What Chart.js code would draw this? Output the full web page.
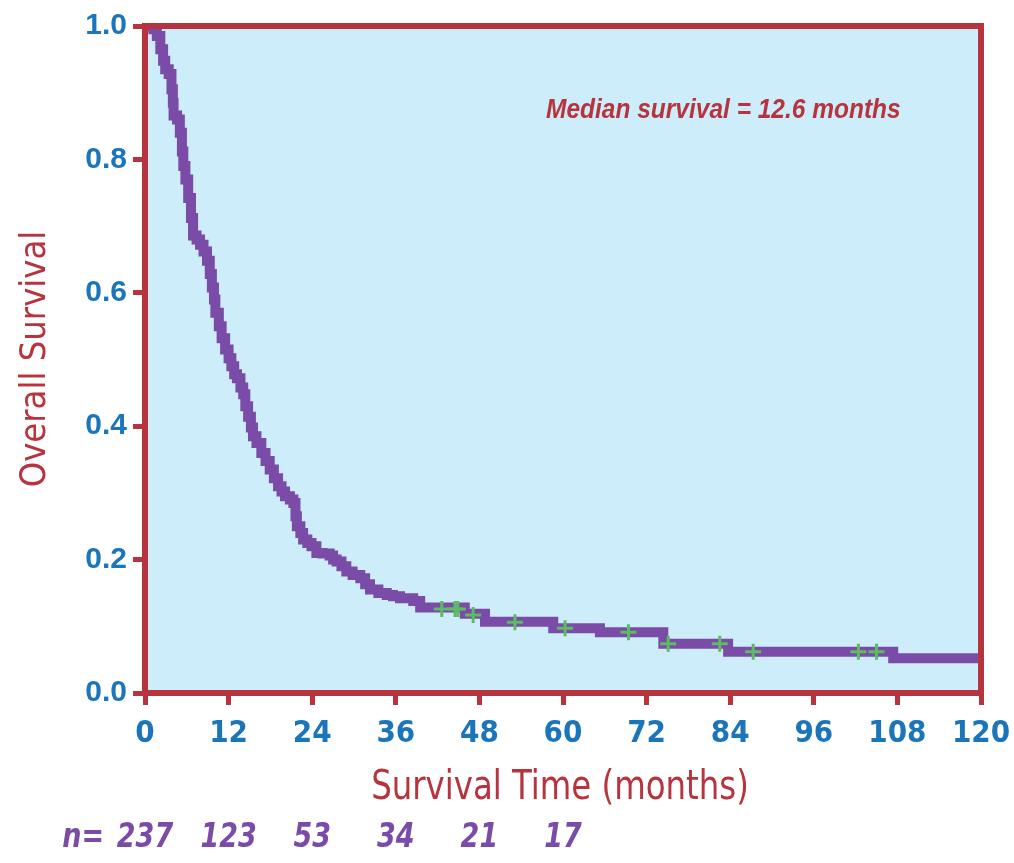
<!DOCTYPE html>
<html>
<head>
<meta charset="utf-8">
<script src="https://cdn.jsdelivr.net/npm/chart.js@4.4.0/dist/chart.umd.min.js"></script>
<style>
html,body{margin:0;padding:0;background:#ffffff;}
#wrap{width:1014px;height:863px;position:relative;}
</style>
</head>
<body>
<div id="wrap"><canvas id="c"></canvas></div>
<script>
// ---- Data ----
const stepTimes = [0,1.2,1.7,2.2,2.6,2.9,3.4,3.8,4.0,4.1,4.6,5.0,5.3,5.5,5.8,6.2,6.6,6.9,7.4,7.9,8.4,8.9,9.3,9.6,9.9,10.1,10.6,11.0,11.5,12.0,12.4,12.8,13.2,13.7,14.1,14.4,14.8,15.2,15.5,16.0,16.7,17.3,17.9,18.5,19.1,19.6,20.1,20.8,21.3,21.6,21.8,22.3,22.7,23.3,23.9,24.6,25.5,26.5,27.0,27.5,28.2,28.9,29.8,30.9,31.6,32.3,33.5,34.7,35.6,36.6,38.5,39.5,45.9,48.8,58.6,65.3,74.4,83.7,107.4,120];
const survival = [1.0,0.995,0.985,0.965,0.948,0.935,0.928,0.905,0.885,0.866,0.86,0.84,0.812,0.79,0.77,0.742,0.712,0.686,0.68,0.672,0.662,0.648,0.628,0.608,0.59,0.57,0.55,0.532,0.515,0.502,0.49,0.478,0.472,0.458,0.448,0.43,0.414,0.398,0.385,0.375,0.36,0.348,0.335,0.322,0.31,0.302,0.295,0.29,0.285,0.265,0.25,0.24,0.23,0.225,0.22,0.21,0.209,0.206,0.2,0.197,0.19,0.182,0.177,0.172,0.163,0.155,0.15,0.147,0.145,0.142,0.138,0.128,0.119,0.107,0.097,0.091,0.074,0.062,0.052,0.052];
const censorTimes = [42.6,44.5,44.9,47.1,53.1,60.3,69.4,75.1,82.5,87.3,102.4,105.0];
const censorSurvival = [0.126,0.126,0.126,0.117,0.106,0.097,0.091,0.074,0.074,0.062,0.062,0.062];
const riskTimes = [0,12,24,36,48,60];
const riskCounts = ['237','123','53','34','21','17'];
const xTickStep = 12;
const yTickStep = 0.2;
const medianText = 'Median survival = 12.6 months';
const xTitle = 'Survival Time (months)';
const yTitle = 'Overall Survival';

// ---- Styles ----
const RED = '#b7343e';
const BLUE = '#1a75bb';
const PURPLE = '#7a4ba7';
const GREEN = '#5dbb63';
const PLOTBG = '#ccedf9';
const NARROW = "'Liberation Sans Narrow','Arial Narrow','DejaVu Sans Condensed',sans-serif";
const SANS = "'Liberation Sans',Arial,sans-serif";

const kmData = stepTimes.map((t,i)=>({x:t,y:survival[i]}));
const censorData = censorTimes.map((t,i)=>({x:t,y:censorSurvival[i]}));

function stretchText(ctx, text, x, y, sy){
  ctx.save();
  ctx.translate(x, y);
  ctx.scale(1, sy);
  ctx.fillText(text, 0, 0);
  ctx.restore();
}

const framePlugin = {
  id:'frame',
  beforeDraw(chart){
    const {ctx, chartArea:a} = chart;
    ctx.save();
    ctx.fillStyle = PLOTBG;
    ctx.fillRect(a.left, a.top, a.right-a.left, a.bottom-a.top);
    ctx.restore();
  },
  afterDatasetsDraw(chart){
    const {ctx, chartArea:a} = chart;
    ctx.save();
    ctx.strokeStyle = RED;
    ctx.lineWidth = 6;
    ctx.lineJoin = 'miter';
    ctx.strokeRect(a.left, a.top, a.right-a.left, a.bottom-a.top);
    ctx.restore();
  },
  afterDraw(chart){
    const {ctx, chartArea:a, scales} = chart;
    const xs = scales.x;
    ctx.save();
    ctx.textBaseline = 'middle';
    // median annotation
    ctx.fillStyle = RED;
    ctx.font = "italic bold 24.5px " + SANS;
    ctx.textAlign = 'left';
    stretchText(ctx, medianText, 546, 111, 1.1);
    // x title
    ctx.font = "36px " + NARROW;
    ctx.textAlign = 'center';
    stretchText(ctx, xTitle, (a.left+a.right)/2 - 3, 788, 1.15);
    // y title
    ctx.save();
    ctx.translate(36, 359);
    ctx.rotate(-Math.PI/2);
    ctx.fillText(yTitle, 0, 0);
    ctx.restore();
    // numbers at risk
    ctx.fillStyle = PURPLE;
    ctx.font = "italic bold 30px " + NARROW;
    ctx.textAlign = 'right';
    stretchText(ctx, 'n=', 104, 838, 1.15);
    ctx.textAlign = 'center';
    riskTimes.forEach((t,i)=>{
      stretchText(ctx, riskCounts[i], xs.getPixelForValue(t), 838, 1.15);
    });
    ctx.restore();
  }
};

new Chart(document.getElementById('c'), {
  type:'line',
  data:{
    datasets:[
      {
        label:'KM',
        data:kmData,
        stepped:'before',
        borderColor:PURPLE,
        borderWidth:10,
        borderJoinStyle:'miter',
        borderCapStyle:'butt',
        pointRadius:0,
        fill:false,
        order:2
      },
      {
        label:'Censored',
        data:censorData,
        showLine:false,
        pointStyle:'cross',
        pointRadius:8,
        pointBorderWidth:3,
        pointBorderColor:GREEN,
        pointBackgroundColor:GREEN,
        borderColor:GREEN,
        order:1
      }
    ]
  },
  options:{
    responsive:true,
    maintainAspectRatio:false,
    animation:false,
    layout:{padding:{left:0,right:33,top:26,bottom:110}},
    plugins:{legend:{display:false},tooltip:{enabled:false}},
    scales:{
      x:{
        type:'linear',
        min:0,max:120,
        afterFit(s){ s.height = 60; s.paddingRight = 0; s.paddingLeft = 0; },
        ticks:{stepSize:xTickStep,color:BLUE,padding:10,font:{family:NARROW,weight:'bold',size:31}},
        grid:{drawOnChartArea:false,drawTicks:true,tickLength:12,color:RED,lineWidth:5},
        border:{display:true,color:RED,width:6}
      },
      y:{
        type:'linear',
        min:0,max:1,
        afterFit(s){ s.width = 145; s.paddingTop = 0; s.paddingBottom = 0; },
        ticks:{stepSize:yTickStep,color:BLUE,padding:6,font:{family:SANS,weight:'bold',size:30},
          callback:(v)=>Number(v).toFixed(1)},
        grid:{drawOnChartArea:false,drawTicks:true,tickLength:12,color:RED,lineWidth:5},
        border:{display:true,color:RED,width:6}
      }
    }
  },
  plugins:[framePlugin]
});
</script>
</body>
</html>
